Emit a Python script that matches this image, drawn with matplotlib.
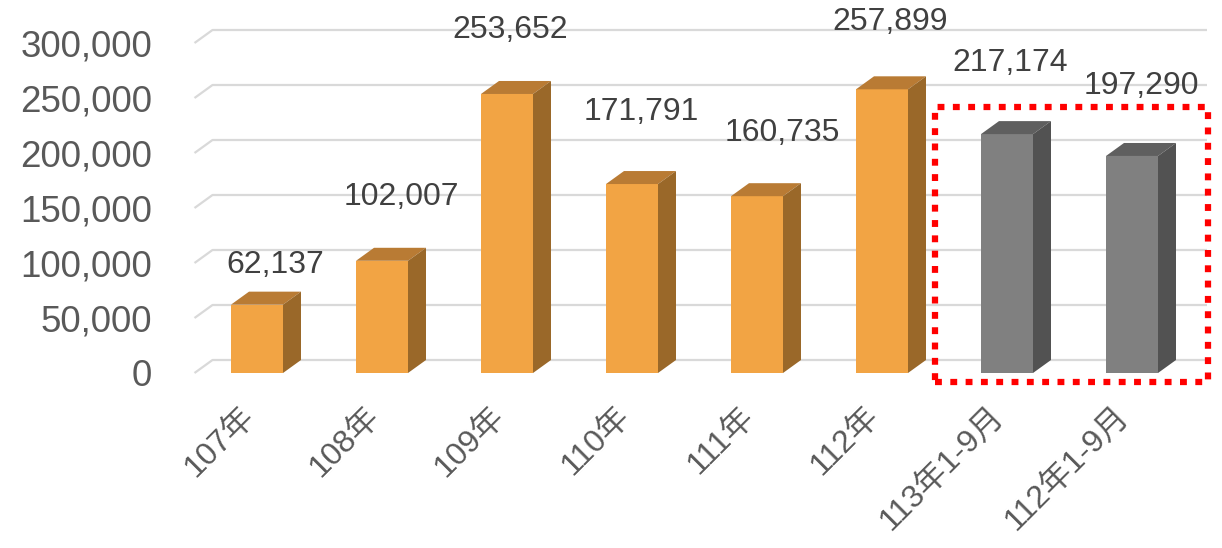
import matplotlib
matplotlib.use("Agg")
import matplotlib.pyplot as plt
from matplotlib.patches import Polygon, Rectangle
from matplotlib.transforms import ScaledTranslation

# ---- data ----
categories = ["107年", "108年", "109年", "110年", "111年", "112年", "113年1-9月", "112年1-9月"]
values = [62137, 102007, 253652, 171791, 160735, 257899, 217174, 197290]
highlight = [False, False, False, False, False, False, True, True]
yticks = [0, 50000, 100000, 150000, 200000, 250000, 300000]

# ---- label placement (pixels: dx right, dy above front top) ----
label_dx = [18, 19, 3, 9, 25, 8, 3, 9]
label_dy = [40, 64, 64, 72, 63, 67, 71, 70]

W, H, DPI = 1222, 548, 100
fig = plt.figure(figsize=(W / DPI, H / DPI), dpi=DPI)

# pixel geometry
x0_px, step_px = 257.0, 125.0       # centre of first bar, spacing
base_px = 373.0                      # y pixel of value 0 (front)
px_per_unit = 55.0 / 50000.0
xlim = (-0.5, 7.6)
ylim = (0, 320000)
left_px = x0_px + xlim[0] * step_px
width_px = (xlim[1] - xlim[0]) * step_px
top_px = base_px - ylim[1] * px_per_unit
ax = fig.add_axes([left_px / W, (H - base_px) / H, width_px / W, (base_px - top_px) / H])
ax.set_xlim(*xlim)
ax.set_ylim(*ylim)
for s in ax.spines.values():
    s.set_visible(False)

# 3D depth
depth_x = 18.0 / step_px
depth_y = 13.0 / px_per_unit
bar_w = 52.0 / step_px

text_color = "#595959"
font_main = ["Liberation Sans", "Noto Sans CJK TC", "DejaVu Sans"]

# gridlines on back wall, with floor diagonal
for t in yticks:
    ax.plot([xlim[0], xlim[0] + depth_x, xlim[1]], [t, t + depth_y, t + depth_y],
            color="#D9D9D9", lw=1.6, clip_on=False, zorder=1, solid_capstyle="butt")

orange = ("#F2A444", "#B97B34", "#9A6829")
gray = ("#808080", "#5F5F5F", "#525252")

xs = list(range(len(values)))
fronts = []
for i, v in enumerate(values):
    front, top, side = gray if highlight[i] else orange
    fronts.append(front)
bars = ax.bar(xs, values, width=bar_w, color=fronts, edgecolor="none", zorder=3, clip_on=False)
for i, (b, v) in enumerate(zip(bars, values)):
    front, top, side = gray if highlight[i] else orange
    xl = b.get_x()
    xr = xl + b.get_width()
    topface = Polygon([[xl, v], [xr, v], [xr + depth_x, v + depth_y], [xl + depth_x, v + depth_y]],
                      closed=True, facecolor=top, edgecolor="none", zorder=3, clip_on=False)
    sideface = Polygon([[xr, 0], [xr + depth_x, depth_y], [xr + depth_x, v + depth_y], [xr, v]],
                       closed=True, facecolor=side, edgecolor="none", zorder=3, clip_on=False)
    ax.add_patch(topface)
    ax.add_patch(sideface)
    ax.annotate(f"{v:,}", (i, v), xytext=(label_dx[i] * 0.72, label_dy[i] * 0.72),
                textcoords="offset points", ha="center", va="center",
                fontsize=23, color="#404040", family=font_main, zorder=5, annotation_clip=False)

# y ticks
ax.set_yticks(yticks)
ax.set_yticklabels([f"{t:,}" for t in yticks], fontsize=26.5, color=text_color, family=font_main)
ax.tick_params(axis="y", length=0, pad=30.5)

# x ticks (rotated categories)
ax.set_xticks(xs)
ax.set_xticklabels(categories, rotation=45, ha="right", va="center", rotation_mode="anchor",
                   fontsize=23, color=text_color, family=font_main)
ax.tick_params(axis="x", length=0, pad=28)
off = ScaledTranslation(-7 / 72 * 0.72, 0, fig.dpi_scale_trans)
for lab in ax.get_xticklabels():
    lab.set_transform(lab.get_transform() + off)

# red dotted highlight box around highlighted bars
hi = [i for i, h in enumerate(highlight) if h]
bx0 = min(hi) - 0.576
bx1 = max(hi) + 0.608
by0 = -9.0 / px_per_unit
by1 = max(values[i] for i in hi) + 27.0 / px_per_unit
box = Rectangle((bx0, by0), bx1 - bx0, by1 - by0, fill=False, edgecolor="#FF0000",
                lw=4.5, linestyle=(0, (1.1, 1.35)), zorder=6, clip_on=False)
box.set_capstyle("butt")
box.set_joinstyle("round")
ax.add_patch(box)

fig.savefig("out.png", dpi=DPI)
